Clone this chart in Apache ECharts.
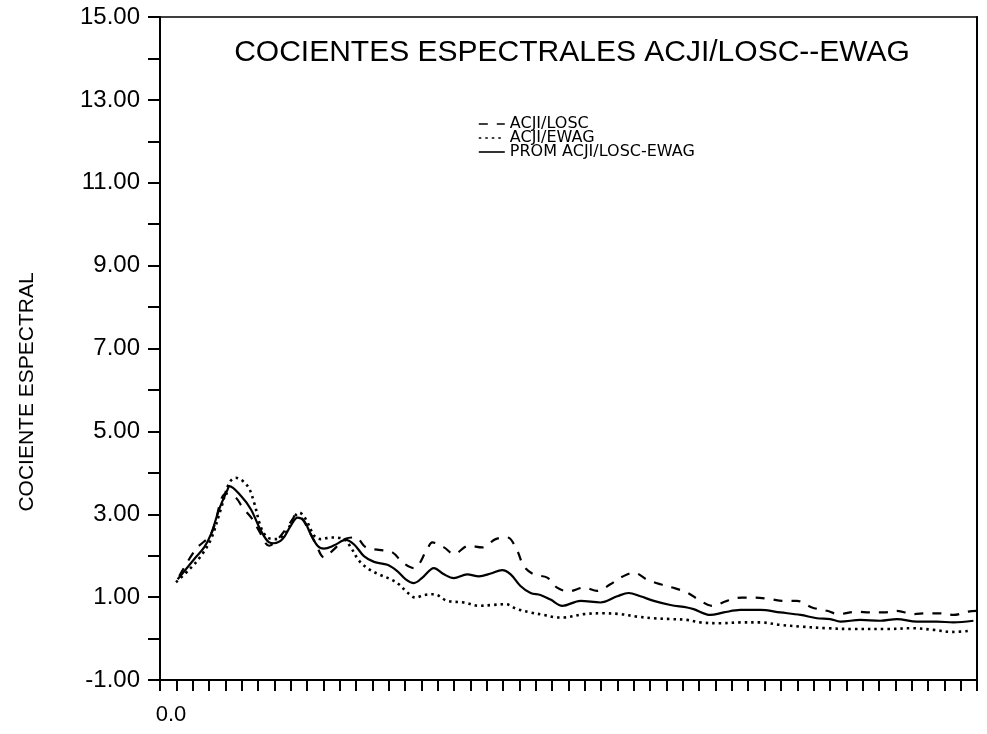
<!DOCTYPE html>
<html>
<head>
<meta charset="utf-8">
<script src="https://cdn.jsdelivr.net/npm/echarts@6/dist/echarts.min.js"></script>
<style>
html,body{margin:0;padding:0;background:#fff;}
#chart{width:987px;height:734px;}
</style>
</head>
<body>
<div id="chart"></div>
<script>
// ---- data (frequency, spectral ratio) ----
var titleText = 'COCIENTES ESPECTRALES ACJI/LOSC--EWAG';
var yAxisName = 'COCIENTE ESPECTRAL';
var seriesNames = ['ACJI/LOSC', 'ACJI/EWAG', 'PROM ACJI/LOSC-EWAG'];
var yTicks = [-1, 1, 3, 5, 7, 9, 11, 13, 15];

var freqLosc = [0.59,1.10,1.56,2.02,2.32,2.53,2.83,3.03,3.34,3.65,4.06,4.16,4.36,4.77,5.02,5.33,5.68,5.99,6.30,6.70,7.11,7.42,7.77,8.18,8.33,8.69,8.99,9.45,9.86,10.27,10.63,10.93,11.13,11.44,11.85,12.15,12.51,12.97,13.38,13.78,14.14,14.50,14.91,15.31,15.77,16.13,16.54,16.89,17.35,17.81,18.22,18.67,19.08,19.49,19.95,20.41,20.76,21.32,21.73,22.14,22.55,23.05,23.46,23.87,24.28,24.73,24.99];
var valLosc  = [1.51,2.16,2.52,3.50,3.40,3.16,2.88,2.60,2.24,2.44,2.88,3.00,2.88,2.28,1.96,2.16,2.41,2.44,2.20,2.14,2.08,1.84,1.70,2.16,2.32,2.20,2.04,2.24,2.20,2.40,2.44,2.12,1.75,1.55,1.47,1.23,1.14,1.23,1.15,1.31,1.49,1.59,1.42,1.31,1.21,1.11,0.91,0.79,0.91,0.99,0.99,0.95,0.91,0.91,0.75,0.67,0.59,0.65,0.63,0.63,0.67,0.59,0.61,0.61,0.57,0.65,0.67];

var freqEwag = [0.49,0.90,1.25,1.56,1.86,2.12,2.32,2.68,2.88,3.09,3.29,3.55,3.85,4.10,4.26,4.46,4.72,4.92,5.23,5.63,5.84,6.09,6.40,6.70,7.06,7.31,7.57,7.82,8.08,8.38,8.79,9.30,9.76,10.17,10.57,10.93,11.34,11.74,12.15,12.36,12.97,13.58,14.09,14.60,15.11,15.62,16.13,16.54,17.15,17.76,18.37,18.98,19.60,20.41,21.22,22.23,23.05,23.66,24.28,24.79];
var valEwag  = [1.36,1.67,1.99,2.40,3.12,3.76,3.88,3.68,3.28,2.68,2.44,2.40,2.56,2.92,3.04,2.88,2.48,2.40,2.44,2.40,2.20,1.88,1.67,1.55,1.43,1.31,1.11,0.99,1.05,1.07,0.91,0.87,0.79,0.81,0.83,0.71,0.63,0.57,0.51,0.51,0.59,0.61,0.59,0.53,0.49,0.47,0.45,0.39,0.37,0.39,0.39,0.33,0.29,0.25,0.23,0.23,0.25,0.21,0.16,0.19];

var freqProm = [0.54,1.05,1.35,1.56,1.81,2.07,2.12,2.48,2.78,3.09,3.34,3.49,3.75,4.00,4.21,4.41,4.61,4.82,5.02,5.33,5.68,5.94,6.24,6.55,6.96,7.26,7.52,7.77,8.03,8.38,8.69,8.99,9.40,9.76,10.12,10.47,10.73,11.03,11.34,11.64,11.95,12.31,12.87,13.48,13.99,14.34,14.70,15.11,15.62,16.13,16.33,16.84,17.25,17.76,18.37,18.98,19.60,20.10,20.51,20.82,21.43,22.04,22.55,23.16,23.77,24.28,24.89];
var valProm  = [1.43,1.92,2.20,2.52,3.12,3.60,3.68,3.44,3.12,2.60,2.32,2.30,2.40,2.72,2.92,2.84,2.52,2.24,2.17,2.25,2.38,2.27,1.99,1.85,1.78,1.63,1.43,1.34,1.47,1.70,1.55,1.46,1.55,1.50,1.57,1.65,1.55,1.27,1.10,1.05,0.94,0.79,0.91,0.87,1.02,1.10,1.02,0.91,0.81,0.75,0.71,0.57,0.63,0.69,0.69,0.63,0.57,0.49,0.47,0.41,0.45,0.43,0.47,0.41,0.41,0.39,0.43];

function pairs(xs, ys) { return xs.map(function (x, i) { return [x, ys[i]]; }); }

var FONT = 'Liberation Sans';
var chart = echarts.init(document.getElementById('chart'), null, { renderer: 'canvas' });

chart.setOption({
  backgroundColor: '#ffffff',
  animation: false,
  title: {
    text: titleText,
    left: 567,
    textAlign: 'center',
    top: 33,
    textStyle: { fontFamily: FONT, fontSize: 30, fontWeight: 'normal', color: '#000' }
  },
  legend: {
    orient: 'vertical',
    left: 473,
    top: 111,
    itemWidth: 26,
    itemHeight: 12,
    itemGap: -2,
    itemStyle: { color: 'rgba(0,0,0,0)', borderColor: 'rgba(0,0,0,0)', borderWidth: 0 },
    lineStyle: { color: '#000', width: 1.6 },
    data: seriesNames,
    textStyle: { fontFamily: 'DejaVu Sans', fontSize: 16, lineHeight: 14, color: '#000' }
  },
  grid: { left: 160, right: 10, top: 17, bottom: 54, containLabel: false },
  xAxis: [{
    type: 'value', min: 0, max: 25, interval: 0.5,
    axisLine: { show: true, onZero: false, lineStyle: { color: '#000', width: 2 } },
    axisTick: { show: true, inside: false, length: 11, lineStyle: { color: '#000', width: 2 } },
    axisLabel: {
      show: true, margin: 24, color: '#000', fontFamily: FONT, fontSize: 22,
      formatter: function (v) { return v === 0 ? '0.0' : ''; },
      padding: [0, 0, 0, 22]
    },
    splitLine: { show: false }
  }, {
    type: 'value', min: 0, max: 25, position: 'top',
    axisLine: { show: true, onZero: false, lineStyle: { color: '#000', width: 1.5 } },
    axisTick: { show: false }, axisLabel: { show: false }, splitLine: { show: false }
  }],
  yAxis: [{
    type: 'value', min: -1, max: 15, interval: 2,
    axisLine: { show: true, onZero: false, lineStyle: { color: '#000', width: 2 } },
    axisTick: { show: true, inside: false, length: 12, lineStyle: { color: '#000', width: 2 } },
    minorTick: { show: true, splitNumber: 2, length: 12, lineStyle: { color: '#000', width: 2 } },
    axisLabel: {
      margin: 20, color: '#000', fontFamily: FONT, fontSize: 24,
      formatter: function (v) { return v.toFixed(2); }
    },
    splitLine: { show: false }
  }, {
    type: 'value', min: -1, max: 15, position: 'right',
    axisLine: { show: true, onZero: false, lineStyle: { color: '#000', width: 2 } },
    axisTick: { show: false }, axisLabel: { show: false }, splitLine: { show: false }
  }],
  graphic: [{
    type: 'text',
    x: 27, y: 392,
    rotation: Math.PI / 2,
    style: {
      text: yAxisName, fontFamily: FONT, fontSize: 21, fill: '#000',
      align: 'center', verticalAlign: 'middle'
    }
  }],
  series: [{
    name: seriesNames[0], type: 'line', smooth: 0.35, symbol: 'none',
    data: pairs(freqLosc, valLosc),
    lineStyle: { color: '#000', width: 2.2, type: [9, 9] },
    itemStyle: { color: '#000' }
  }, {
    name: seriesNames[1], type: 'line', smooth: 0.35, symbol: 'none',
    data: pairs(freqEwag, valEwag),
    lineStyle: { color: '#000', width: 2.6, type: [2.5, 4] },
    itemStyle: { color: '#000' }
  }, {
    name: seriesNames[2], type: 'line', smooth: 0.35, symbol: 'none',
    data: pairs(freqProm, valProm),
    lineStyle: { color: '#000', width: 2.2, type: 'solid' },
    itemStyle: { color: '#000' }
  }]
});
</script>
</body>
</html>
